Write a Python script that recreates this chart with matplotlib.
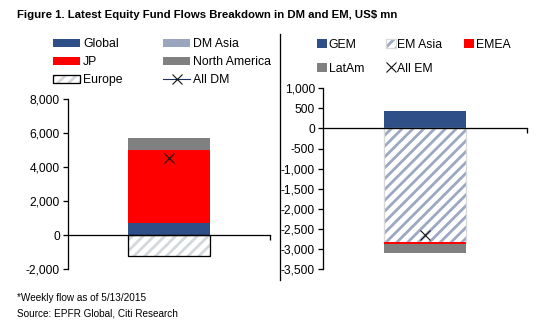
import matplotlib
matplotlib.use("Agg")
import matplotlib.pyplot as plt
from matplotlib.lines import Line2D
from matplotlib.legend_handler import HandlerTuple

DPI = 130
PX = 72 / DPI  # one pixel in points

# DM flows, US$ mn (weekly, 5/13/2015)
dm_names = ['Global', 'DM Asia', 'JP', 'North America', 'Europe']
dm_values = [690, 0, 4310, 700, -1250]
all_dm = 4510

# EM flows, US$ mn
em_names = ['GEM', 'EM Asia', 'EMEA', 'LatAm']
em_values = [435, -2820, -55, -225]
all_em = -2650

dm_ticks = [-2000, 0, 2000, 4000, 6000, 8000]
em_ticks = [-3500, -3000, -2500, -2000, -1500, -1000, -500, 0, 500, 1000]

NAVY = '#2F4F88'
RED = '#FF0000'
GREY = '#808080'
DMASIA = '#9AA6BE'

plt.rcParams['font.family'] = ['Liberation Sans', 'DejaVu Sans']
plt.rcParams['hatch.linewidth'] = 2.8 * PX

fig = plt.figure(figsize=(538 / DPI, 330 / DPI), dpi=DPI)


def stack_bars(ax, values, styles, width=0.4):
    """stack positives up and negatives down, like excel does"""
    pos, neg = 0.0, 0.0
    handles = []
    for v, st in zip(values, styles):
        base = pos if v >= 0 else neg
        if st.get('hatch'):
            b1 = ax.bar(0, v, width, bottom=base, color='white', hatch=st['hatch'],
                        edgecolor=st['hatchcolor'], linewidth=0, zorder=2)
            b2 = ax.bar(0, v, width, bottom=base, fill=False, edgecolor=st['edge'],
                        linewidth=st.get('lw', 1) * PX, zorder=2)
            handles.append((b1[0], b2[0]))
        else:
            b = ax.bar(0, v, width, bottom=base, color=st['color'], linewidth=0, zorder=2)
            handles.append(b[0])
        if v >= 0:
            pos += v
        else:
            neg += v
    return handles


def style_axis(ax, ylim, ticks):
    ax.set_xlim(-0.5, 0.5)
    ax.set_ylim(*ylim)
    ax.set_yticks(ticks)
    ax.set_yticklabels([f'{t:,}' for t in ticks])
    for s in ['top', 'right']:
        ax.spines[s].set_visible(False)
    ax.spines['bottom'].set_position(('data', 0))
    ax.spines['bottom'].set_zorder(3)
    ax.spines['left'].set_linewidth(1.3 * PX)
    ax.spines['bottom'].set_linewidth(1.3 * PX)
    ax.set_xticks([0.5])
    ax.set_xticklabels([])
    ax.tick_params(axis='x', direction='out', length=5 * PX, width=1.3 * PX)
    ax.tick_params(axis='y', direction='out', length=5 * PX, width=1.3 * PX,
                   labelsize=12 * PX, pad=3 * PX)


overlay = {tuple: HandlerTuple(ndivide=1, pad=0)}

# ---- left: DM ----
ax1 = fig.add_axes([68 / 538, 1 - 269 / 330, 202 / 538, 170 / 330])
dm_styles = [
    {'color': NAVY},
    {'color': DMASIA},
    {'color': RED},
    {'color': GREY},
    {'hatch': '////', 'hatchcolor': '#D3D8DC', 'edge': 'black', 'lw': 1.3},
]
h_dm = stack_bars(ax1, dm_values, dm_styles, width=0.405)
mk_dm, = ax1.plot([0], [all_dm], marker='x', color='#1F2F5F', markeredgecolor='#111111',
                  markersize=10 * PX, markeredgewidth=1.1 * PX, linewidth=1.1 * PX, zorder=4)
style_axis(ax1, (-2000, 8000), dm_ticks)

fig.legend([h_dm[0], h_dm[2], h_dm[4], h_dm[1], h_dm[3], mk_dm],
           [dm_names[0], dm_names[2], dm_names[4], dm_names[1], dm_names[3], 'All DM'],
           ncol=2, loc='upper left', bbox_to_anchor=(53 / 538, 1 - 38 / 330),
           frameon=False, fontsize=12.3 * PX, handlelength=2.2, handleheight=0.6,
           handletextpad=0.25, labelspacing=0.5, columnspacing=3.3, borderpad=0,
           borderaxespad=0, handler_map=overlay)

# ---- right: EM ----
ax2 = fig.add_axes([323 / 538, 1 - 269 / 330, 204 / 538, 180.7 / 330])
em_styles = [
    {'color': NAVY},
    {'hatch': '////', 'hatchcolor': '#9DA9C2', 'edge': '#D9D9D9', 'lw': 1.3},
    {'color': RED},
    {'color': GREY},
]
h_em = stack_bars(ax2, em_values, em_styles, width=0.4)
mk_em, = ax2.plot([0], [all_em], marker='x', linestyle='none', color='#111111',
                  markersize=10 * PX, markeredgewidth=1.1 * PX, zorder=4)
style_axis(ax2, (-3500, 1000), em_ticks)

fig.legend([h_em[0], h_em[3], h_em[1], mk_em, h_em[2]],
           [em_names[0], em_names[3], em_names[1], 'All EM', em_names[2]],
           ncol=3, loc='upper left', bbox_to_anchor=(317 / 538, 1 - 39 / 330),
           frameon=False, fontsize=12.3 * PX, handlelength=0.8, handleheight=0.8,
           handletextpad=0.15, labelspacing=0.95, columnspacing=1.75, borderpad=0,
           borderaxespad=0, handler_map=overlay)

# divider between the two panels
fig.add_artist(Line2D([279.5 / 538, 279.5 / 538], [1 - 34 / 330, 1 - 280 / 330],
                      color='black', linewidth=1.3 * PX))

narrow = ['Liberation Sans Narrow', 'Liberation Sans', 'DejaVu Sans']
fig.text(17 / 538, 1 - 18 / 330, 'Figure 1. Latest Equity Fund Flows Breakdown in DM and EM, US$ mn',
         fontsize=11.4 * PX, fontweight='bold', family=narrow, va='baseline')
fig.text(17 / 538, 1 - 301 / 330, '*Weekly flow as of 5/13/2015',
         fontsize=10 * PX, family=narrow, va='baseline')
fig.text(17 / 538, 1 - 316 / 330, 'Source: EPFR Global, Citi Research',
         fontsize=10 * PX, family=narrow, va='baseline')

fig.savefig('out.png', dpi=DPI)
